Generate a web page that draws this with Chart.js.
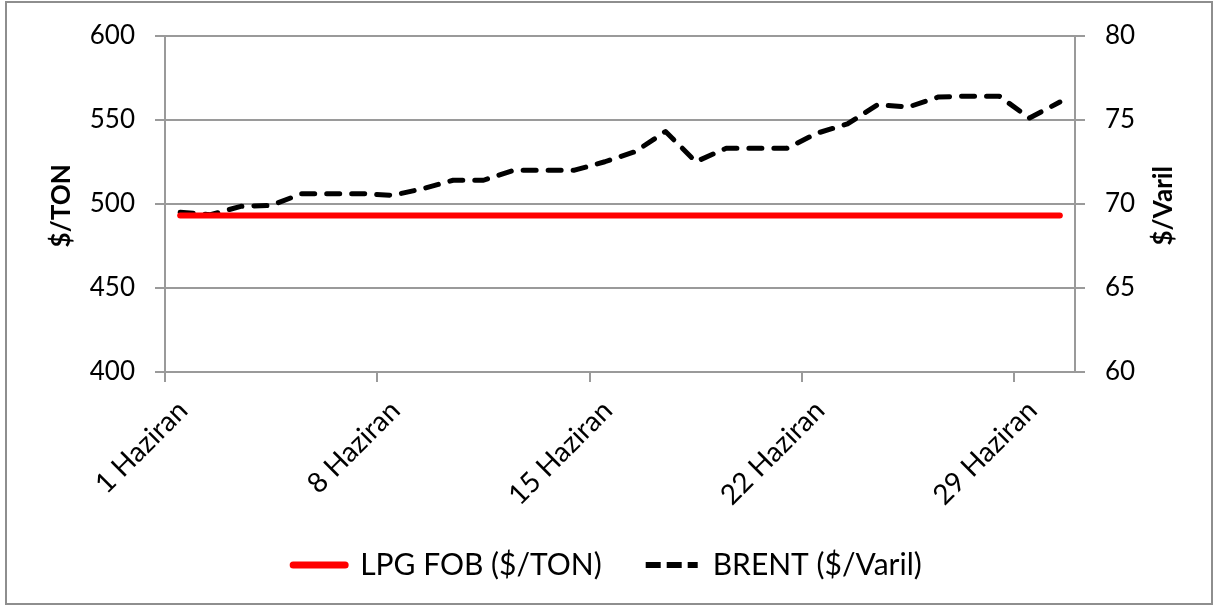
<!DOCTYPE html>
<html lang="tr">
<head>
    <meta charset="UTF-8">
    <title>LPG FOB - BRENT</title>
    <script src="https://cdn.jsdelivr.net/npm/chart.js@4.4.0/dist/chart.umd.min.js"></script>
    <style>
        html, body {
            margin: 0;
            padding: 0;
            background: #fff;
        }
        .chart-box {
            position: relative;
            width: 1215px;
            height: 606px;
        }
        .chart-frame {
            position: absolute;
            left: 5px;
            top: 1px;
            right: 2px;
            bottom: 1px;
            border: 2px solid #8e8e8e;
            pointer-events: none;
        }
    </style>
</head>
<body>
    <div class="chart-box">
        <canvas id="priceChart" width="1215" height="606"></canvas>
        <div class="chart-frame"></div>
    </div>

    <script>
        // Haziran günleri (1-30)
        const days = [1, 2, 3, 4, 5, 6, 7, 8, 9, 10, 11, 12, 13, 14, 15,
                      16, 17, 18, 19, 20, 21, 22, 23, 24, 25, 26, 27, 28, 29, 30];
        const tickDays = [1, 8, 15, 22, 29];
        const tickLabels = ['1 Haziran', '8 Haziran', '15 Haziran', '22 Haziran', '29 Haziran'];

        const lpgFob = [493, 493, 493, 493, 493, 493, 493, 493, 493, 493,
                        493, 493, 493, 493, 493, 493, 493, 493, 493, 493,
                        493, 493, 493, 493, 493, 493, 493, 493, 493, 493];
        const brent = [69.5, 69.35, 69.85, 69.9, 70.6, 70.6, 70.6, 70.5, 70.9, 71.4,
                       71.4, 72.0, 72.0, 72.0, 72.5, 73.1, 74.3, 72.5, 73.3, 73.3,
                       73.3, 74.2, 74.75, 75.9, 75.75, 76.35, 76.4, 76.4, 75.1, 76.05];

        const leftTicks = [400, 450, 500, 550, 600];
        const rightTicks = [60, 65, 70, 75, 80];

        const FONT = 'Lato';
        const AXIS_GRAY = '#9a9a9a';
        const BRENT_DASH = [13, 12];
        const LEGEND_DASH = [15, 6];

        // Eksen başlıkları (ikisi de aşağıdan yukarı okunur)
        const axisTitles = {
            id: 'axisTitles',
            afterDraw(chart) {
                const { ctx, chartArea } = chart;
                const cy = (chartArea.top + chartArea.bottom) / 2 + 2;
                ctx.save();
                ctx.font = 'bold 26px ' + FONT;
                ctx.fillStyle = '#000';
                ctx.textAlign = 'center';
                ctx.textBaseline = 'middle';
                [[chartArea.left - 103, '$/TON'], [chartArea.right + 89, '$/Varil']].forEach(([x, text]) => {
                    ctx.save();
                    ctx.translate(x, cy);
                    ctx.rotate(-Math.PI / 2);
                    ctx.fillText(text, 0, 0);
                    ctx.restore();
                });
                ctx.restore();
            }
        };

        const ctx = document.getElementById('priceChart').getContext('2d');
        const priceChart = new Chart(ctx, {
            type: 'line',
            data: {
                datasets: [{
                    label: 'LPG FOB ($/TON)',
                    data: days.map((d, i) => ({ x: d, y: lpgFob[i] })),
                    borderColor: '#ff0000',
                    backgroundColor: '#ff0000',
                    borderWidth: 6,
                    borderCapStyle: 'round',
                    pointRadius: 0,
                    pointStyle: 'line',
                    yAxisID: 'y'
                }, {
                    label: 'BRENT ($/Varil)',
                    data: days.map((d, i) => ({ x: d, y: brent[i] })),
                    borderColor: '#000000',
                    backgroundColor: '#000000',
                    borderWidth: 5,
                    borderDash: BRENT_DASH,
                    borderCapStyle: 'round',
                    borderJoinStyle: 'round',
                    pointRadius: 0,
                    pointStyle: 'line',
                    yAxisID: 'y1'
                }]
            },
            options: {
                responsive: false,
                animation: false,
                devicePixelRatio: 1,
                layout: {
                    padding: { top: 33, left: 0, right: 0, bottom: 16 }
                },
                plugins: {
                    tooltip: { enabled: false },
                    legend: {
                        position: 'bottom',
                        labels: {
                            usePointStyle: true,
                            pointStyle: 'line',
                            pointStyleWidth: 52,
                            padding: 44,
                            color: '#000',
                            font: { family: FONT, size: 30 },
                            generateLabels: (chart) => {
                                const items = Chart.defaults.plugins.legend.labels.generateLabels(chart);
                                items.forEach(item => {
                                    const ds = chart.data.datasets[item.datasetIndex];
                                    item.lineWidth = ds.borderWidth + 1;
                                    item.strokeStyle = ds.borderColor;
                                    item.lineDash = ds.borderDash ? LEGEND_DASH : [];
                                    item.lineCap = ds.borderDash ? 'butt' : 'round';
                                });
                                return items;
                            }
                        }
                    }
                },
                scales: {
                    x: {
                        type: 'linear',
                        min: 0.5,
                        max: 30.5,
                        afterBuildTicks: (scale) => {
                            scale.ticks = tickDays.map(d => ({ value: d - 0.5 }));
                        },
                        afterFit: (scale) => { scale.height = 134; },
                        ticks: {
                            autoSkip: false,
                            minRotation: 45,
                            maxRotation: 45,
                            labelOffset: 18,
                            padding: 12,
                            color: '#000',
                            font: { family: FONT, size: 28 },
                            callback: (value) => tickLabels[tickDays.indexOf(value + 0.5)]
                        },
                        grid: {
                            drawOnChartArea: false,
                            drawTicks: true,
                            tickLength: 10,
                            color: AXIS_GRAY,
                            lineWidth: 2
                        },
                        border: { display: true, color: AXIS_GRAY, width: 2 }
                    },
                    y: {
                        position: 'left',
                        min: 400,
                        max: 600,
                        afterBuildTicks: (scale) => {
                            scale.ticks = leftTicks.map(v => ({ value: v }));
                        },
                        afterFit: (scale) => { scale.width = 165; },
                        ticks: {
                            padding: 20,
                            color: '#000',
                            font: { family: FONT, size: 26 }
                        },
                        grid: {
                            color: AXIS_GRAY,
                            lineWidth: 2,
                            tickLength: 10
                        },
                        border: { display: true, color: AXIS_GRAY, width: 2 }
                    },
                    y1: {
                        position: 'right',
                        min: 60,
                        max: 80,
                        afterBuildTicks: (scale) => {
                            scale.ticks = rightTicks.map(v => ({ value: v }));
                        },
                        afterFit: (scale) => { scale.width = 140; },
                        ticks: {
                            padding: 20,
                            color: '#000',
                            font: { family: FONT, size: 26 }
                        },
                        grid: {
                            drawOnChartArea: false,
                            color: AXIS_GRAY,
                            lineWidth: 2,
                            tickLength: 10
                        },
                        border: { display: true, color: AXIS_GRAY, width: 2 }
                    }
                }
            },
            plugins: [axisTitles]
        });
    </script>
</body>
</html>
